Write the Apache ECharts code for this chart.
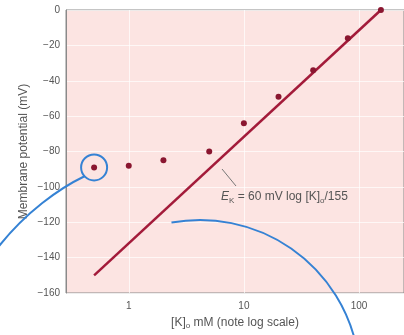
<!DOCTYPE html>
<html>
<head>
<meta charset="utf-8" />
<script src="https://cdn.jsdelivr.net/npm/echarts@6/dist/echarts.min.js"></script>
<style>
	html, body { margin: 0; padding: 0; background: #fff; }
	#chart { width: 404px; height: 335px; }
</style>
</head>
<body>
<div id="chart"></div>
<script>
// measured points: [K]o (mM), membrane potential (mV)
const potassium = [0.5, 1, 2, 5, 10, 20, 40, 80, 155];
const potential = [-89, -88, -85, -80, -64, -49, -34, -16, 0];
// Nernst line end points
const nernstK = [0.5, 155];
const nernstV = [-150, 0];
const circled = [[0.5, -89]];
const yTicks = [0, -20, -40, -60, -80, -100, -120, -140, -160];

const font = "Liberation Sans, Arial, sans-serif";
const chart = echarts.init(document.getElementById("chart"));

chart.setOption({
	animation: false,
	textStyle: { fontFamily: font },
	grid: {
		left: 66,
		top: 10,
		width: 345,
		height: 285,
		show: true,
		backgroundColor: "#fce4e2",
		borderColor: "#8a8a8a",
		borderWidth: 1,
	},
	xAxis: {
		type: "log",
		logBase: 10,
		min: 0.285,
		max: 246,
		name: "[K]{sub|o} mM (note log scale)",
		nameLocation: "middle",
		nameGap: 22,
		nameTextStyle: {
			color: "#555",
			fontSize: 12,
			fontFamily: font,
			rich: {
				sub: { fontSize: 8, verticalAlign: "bottom", padding: [7, 0, 0, 0], color: "#555" },
			},
		},
		axisLine: { show: false },
		axisTick: { show: false },
		axisLabel: {
			color: "#555",
			fontSize: 10,
			margin: 8,
			showMinLabel: false,
			showMaxLabel: false,
		},
		splitLine: { show: true, lineStyle: { color: "rgba(255,255,255,0.7)", width: 1 } },
	},
	yAxis: {
		type: "value",
		min: yTicks[yTicks.length - 1],
		max: yTicks[0],
		interval: 20,
		name: "Membrane potential (mV)",
		nameLocation: "middle",
		nameGap: 36,
		nameMoveOverlap: false,
		nameTextStyle: { color: "#555", fontSize: 12, fontFamily: font },
		axisLine: { show: true, lineStyle: { color: "#8a8a8a" } },
		axisTick: { show: false },
		axisLabel: {
			color: "#555",
			fontSize: 10,
			margin: 6,
			formatter: (v) => String(v).replace("-", "\u2212"),
		},
		splitLine: { show: true, lineStyle: { color: "rgba(255,255,255,0.7)", width: 1 } },
	},
	series: [
		{
			type: "line",
			data: nernstK.map((k, i) => [k, nernstV[i]]),
			symbol: "none",
			lineStyle: { color: "#a31b3a", width: 2.5 },
			z: 3,
		},
		{
			type: "scatter",
			data: potassium.map((k, i) => [k, potential[i]]),
			symbolSize: 6,
			itemStyle: { color: "#8a1630", opacity: 1 },
			z: 4,
		},
		{
			type: "scatter",
			data: circled,
			symbol: "circle",
			symbolSize: 26,
			itemStyle: { color: "transparent", borderColor: "#3582d4", borderWidth: 2, opacity: 1 },
			z: 5,
		},
	],
	graphic: [
		{
			type: "bezierCurve",
			shape: { x1: 85, y1: 176, cpx1: 60, cpy1: 188, cpx2: 25, cpy2: 212, x2: -4, y2: 250 },
			style: { stroke: "#3582d4", lineWidth: 2, fill: null },
			z: 10,
		},
		{
			type: "arc",
			shape: { cx: 200, cy: 380, r: 160, startAngle: -1.75, endAngle: -0.15, clockwise: true },
			style: { stroke: "#3582d4", lineWidth: 2, fill: null },
			z: 10,
		},
		{
			type: "line",
			shape: { x1: 222, y1: 169, x2: 236, y2: 186 },
			style: { stroke: "#777", lineWidth: 1 },
			z: 10,
		},
		{
			type: "text",
			left: 221,
			top: 191,
			style: {
				text: "{e|E}{s|K}{t| = 60 mV log [K]}{s|o}{t|/155}",
				fill: "#555",
				font: "12px " + font,
				rich: {
					e: { fontStyle: "italic", fontSize: 12, fill: "#555" },
					s: { fontSize: 8, fill: "#555", padding: [7, 0, 0, 0] },
					t: { fontSize: 12, fill: "#555" },
				},
			},
			z: 10,
		},
	],
});
</script>
</body>
</html>
